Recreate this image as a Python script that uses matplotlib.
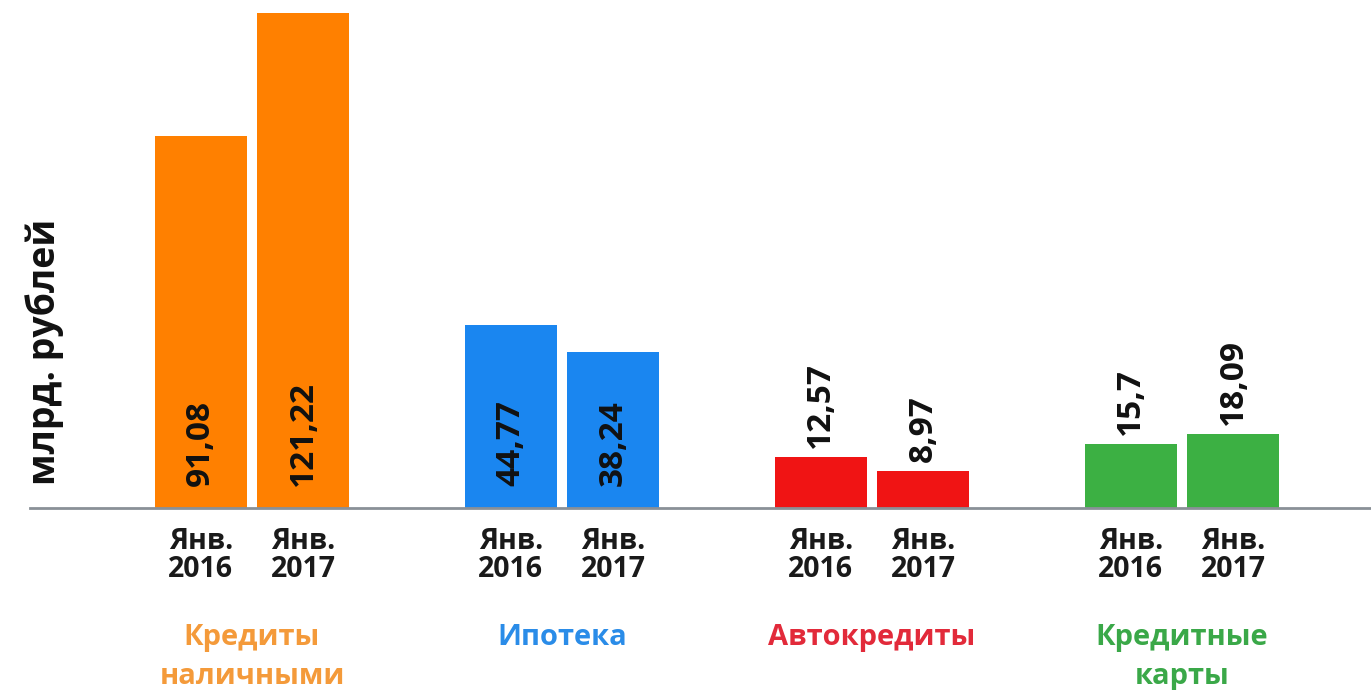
import matplotlib
matplotlib.use("Agg")
import matplotlib.pyplot as plt
import numpy as np

categories = ["Кредиты\nналичными", "Ипотека", "Автокредиты", "Кредитные\nкарты"]
periods = ["Янв.\n2016", "Янв.\n2017"]
values_2016 = [91.08, 44.77, 12.57, 15.7]
values_2017 = [121.22, 38.24, 8.97, 18.09]
value_labels_2016 = ["91,08", "44,77", "12,57", "15,7"]
value_labels_2017 = ["121,22", "38,24", "8,97", "18,09"]
bar_colors = ["#FF8000", "#1A86F0", "#F01414", "#3CB043"]
label_colors = ["#F49A3A", "#2A8CE8", "#E22A3A", "#3AA848"]

plt.rcParams['font.family'] = ['Open Sans', 'DejaVu Sans']

fig = plt.figure(figsize=(13.71, 6.9), dpi=100)
ax = fig.add_axes([30/1371, 182/690, 1341/1371, 508/690])

x = np.arange(len(categories))
off = 0.165
w = 0.297
ax.bar(x - off, values_2016, width=w, color=bar_colors)
ax.bar(x + off, values_2017, width=w, color=bar_colors)

ax.set_xlim(-0.716, 3.61)
ax.set_ylim(0, 124.5)

for xi, vals, labs in [(x - off, values_2016, value_labels_2016), (x + off, values_2017, value_labels_2017)]:
    for xx, v, lab in zip(xi, vals, labs):
        if v > 30:
            ax.text(xx, 5.5, lab, rotation=90, ha='center', va='bottom',
                    fontsize=24, fontweight='bold', color='#111111')
        else:
            ax.text(xx, v + 2.2, lab, rotation=90, ha='center', va='bottom',
                    fontsize=24, fontweight='bold', color='#111111')

ticks = np.concatenate([x - off, x + off])
ticklabels = [periods[0]] * len(x) + [periods[1]] * len(x)
ax.set_xticks(ticks)
ax.set_xticklabels(ticklabels, fontsize=20.5, fontweight='bold', color='#1a1a1a',
                   linespacing=0.95)
ax.tick_params(axis='x', length=0, pad=14)
ax.set_yticks([])

for xi, cat, c in zip(x, categories, label_colors):
    ax.annotate(cat, xy=(xi, 0), xycoords=('data', 'axes fraction'),
                xytext=(0, -83), textcoords='offset points',
                ha='center', va='top', fontsize=21, fontweight='bold',
                color=c, linespacing=1.42)

for s in ['top', 'right', 'left']:
    ax.spines[s].set_visible(False)
ax.spines['bottom'].set_color('#8a9097')
ax.spines['bottom'].set_linewidth(2)

fig.text(45/1371, 1 - 352/690, "млрд. рублей", rotation=90, ha='center', va='center',
         fontsize=27, fontweight='bold', color='#111111')

fig.savefig("out.png", dpi=100)
